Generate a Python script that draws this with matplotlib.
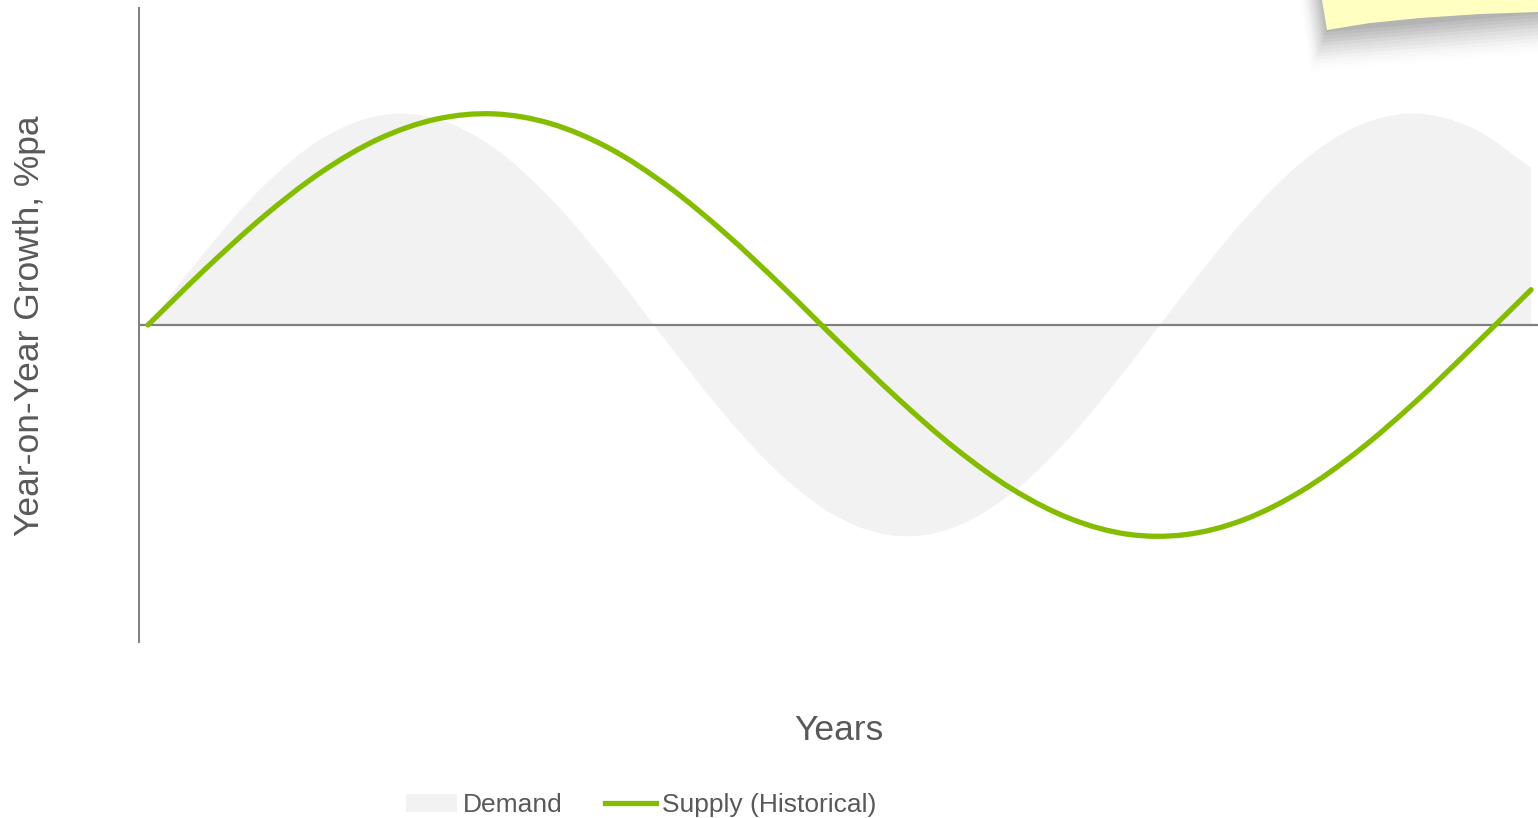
import numpy as np
import matplotlib.pyplot as plt
from matplotlib.path import Path
from matplotlib.patches import PathPatch, Polygon
from matplotlib.lines import Line2D
from matplotlib.patches import Patch

plt.rcParams['font.family'] = ['Liberation Sans', 'DejaVu Sans']

years = list(range(25))
demand = [0.0, 3.50, 6.56, 8.79, 9.90, 9.76, 8.39, 5.95, 2.76, -0.79, -4.23,
          -7.13, -9.14, -9.98, -9.56, -7.93, -5.30, -1.99, 1.56, 4.92, 7.66,
          9.43, 10.0, 9.30, 7.43]
supply = [0.0, 2.66, 5.12, 7.22, 8.80, 9.74, 9.99, 9.52, 8.37, 6.61, 4.38,
          1.84, -0.84, -3.45, -5.82, -7.77, -9.16, -9.90, -9.92, -9.23, -7.88,
          -5.96, -3.62, -1.01, 1.67]

GREEN = '#84BD00'
GREY_FILL = '#F2F2F2'
TEXT = '#595959'


def smooth_path(x, y):
    # Catmull-Rom through the points, drawn as cubic Bezier segments
    pts = np.column_stack([np.asarray(x, float), np.asarray(y, float)])
    verts = [pts[0]]
    codes = [Path.MOVETO]
    n = len(pts)
    for i in range(n - 1):
        p0 = pts[i - 1] if i > 0 else pts[i]
        p1 = pts[i]
        p2 = pts[i + 1]
        p3 = pts[i + 2] if i + 2 < n else pts[i + 1]
        verts += [p1 + (p2 - p0) / 6.0, p2 - (p3 - p1) / 6.0, p2]
        codes += [Path.CURVE4] * 3
    return verts, codes


fig = plt.figure(figsize=(15.38, 8.18), dpi=100)
ax = fig.add_axes([139 / 1538, 176 / 818, 1 - 139 / 1538, 634 / 818])

# demand area, closed back along the zero line
v, c = smooth_path(years, demand)
v = v + [(years[-1], 0), (years[0], 0), (years[0], 0)]
c = c + [Path.LINETO, Path.LINETO, Path.CLOSEPOLY]
ax.add_patch(PathPatch(Path(v, c), facecolor=GREY_FILL, edgecolor='none', zorder=1))

ax.axhline(0, color='#808080', lw=1.6, zorder=2)

v, c = smooth_path(years, supply)
ax.add_patch(PathPatch(Path(v, c), facecolor='none', edgecolor=GREEN, lw=3.8,
                       capstyle='round', zorder=3))

ax.set_xlim(-0.156, 24.12)
ax.set_ylim(-15, 15)
ax.set_xticks([])
ax.set_yticks([])
for s in ['top', 'right', 'bottom']:
    ax.spines[s].set_visible(False)
ax.spines['left'].set_color('#808080')
ax.spines['left'].set_linewidth(1.4)

fig.text(839 / 1538, 1 - 730 / 818, 'Years', fontsize=25.5, color=TEXT,
         ha='center', va='center')
fig.text(30 / 1538, 1 - 326 / 818, 'Year-on-Year Growth, %pa', fontsize=25.5,
         color=TEXT, ha='center', va='center', rotation=90)

handles = [Patch(facecolor=GREY_FILL, edgecolor='none'),
           Line2D([], [], color=GREEN, lw=3.8)]
fig.legend(handles, ['Demand', 'Supply (Historical)'], loc='center',
           bbox_to_anchor=(641 / 1538, 1 - 805 / 818), ncol=2, frameon=False,
           fontsize=19, labelcolor=TEXT, handlelength=1.95, handletextpad=0.22,
           columnspacing=1.6, handleheight=0.7, borderpad=0, borderaxespad=0)

# sticky note in the corner with a soft shadow underneath
for i in range(12):
    off = 2 + i * 3.5
    alpha = 0.11 * (1 - i / 12)
    fig.patches.append(Polygon(
        [(1322 - i * 2, 818), (1538, 818), (1538, 818 - 12 - off),
         (1327 - i * 1.5, 818 - 30 - off)],
        closed=True, transform=None, facecolor='#7a7a7a', edgecolor='none',
        alpha=alpha, zorder=0))
fig.patches.append(Polygon(
    [(1322, 818), (1538, 818), (1538, 818 - 12), (1480, 818 - 14),
     (1420, 818 - 18), (1370, 818 - 23), (1327, 818 - 30)],
    closed=True, transform=None, facecolor='#FFFFC2', edgecolor='none', zorder=1))

fig.savefig('out.png', dpi=100)
